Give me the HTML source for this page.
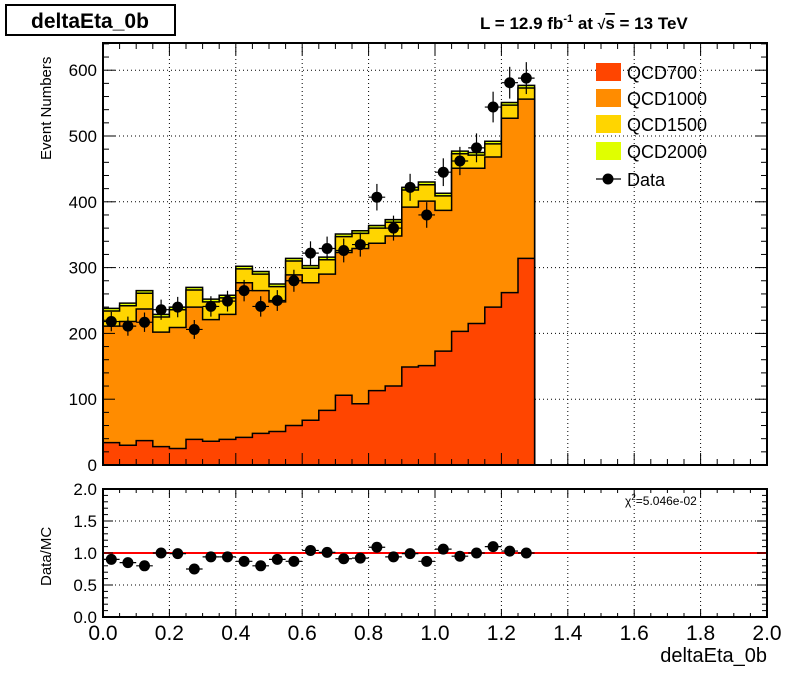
<!DOCTYPE html>
<html><head><meta charset="utf-8"><style>
body{margin:0;background:#fff;}
svg text{font-family:"Liberation Sans",sans-serif;}
</style></head><body>
<svg id="c" width="798" height="669" xmlns="http://www.w3.org/2000/svg">
<rect x="0" y="0" width="798" height="669" fill="#fff"/>
<rect x="6" y="5" width="169" height="30" fill="#fff" stroke="#000" stroke-width="2"/>
<text x="90" y="28" font-size="21" font-weight="bold" text-anchor="middle">deltaEta_0b</text>
<text x="480" y="29" font-size="17" font-weight="bold">L = 12.9 fb<tspan dy="-7" font-size="11">-1</tspan><tspan dy="7"> at  </tspan><tspan font-size="14">√</tspan><tspan text-decoration="overline">s</tspan> = 13 TeV</text>
<text transform="translate(51,160) rotate(-90)" font-size="15">Event Numbers</text>
<text transform="translate(51,586) rotate(-90)" font-size="15">Data/MC</text>
<text x="767" y="662" font-size="20" text-anchor="end">deltaEta_0b</text>
<g id="main"></g>
<g id="ratio"></g>
</svg>
<script>
const binEdgesStart = 0.0;
const binWidth = 0.05;
const qcd700 = [34,30,37,28,25,39,36,39,42,48,51,60,68,83,106,93,113,120,149,151,173,203,215,240,262,314];
const qcd1000Top = [211,218,237,202,209,240,221,229,277,265,248,289,277,290,323,329,337,348,392,401,387,451,451,468,527,556];
const totalTop = [238,246,265,229,240,270,252,258,302,294,275,314,303,316,351,356,364,373,422,430,413,477,475,492,551,577];
const qcd2000 = [4,4,4,4,4,4,4,4,4,4,4,4,4,4,4,4,4,4,4,4,4,4,4,4,4,4];
const dataVals = [218,211,217,236,240,206,241,249,265,241,250,280,322,329,326,335,407,360,422,380,445,462,482,544,581,588];
const ratioVals = [0.90,0.85,0.80,1.00,0.99,0.75,0.94,0.94,0.87,0.80,0.90,0.87,1.04,1.01,0.91,0.92,1.09,0.94,0.99,0.87,1.06,0.95,1.00,1.10,1.03,1.00];
const yTicks = [0,100,200,300,400,500,600];
const rTicks = [0.0,0.5,1.0,1.5,2.0];
const xTicks = [0.0,0.2,0.4,0.6,0.8,1.0,1.2,1.4,1.6,1.8,2.0];
const chi2Label = "=5.046e-02";

const NS="http://www.w3.org/2000/svg";
const X0=103,X1=767,YT=43,YB=465,RT=489,RB=617;
const xs=v=>X0+(v/2.0)*(X1-X0);
const ys=v=>YB-v*0.658;
const rs=v=>RB-v*(RB-RT)/2.0;
function mk(tag,attrs,parent){const e=document.createElementNS(NS,tag);for(const k in attrs)e.setAttribute(k,attrs[k]);parent.appendChild(e);return e;}
const main=document.getElementById('main'), ratio=document.getElementById('ratio');

// grids
for(const t of xTicks){ if(t>0&&t<2){
  const g1=mk('line',{x1:xs(t),x2:xs(t),y1:YT,y2:YB,stroke:'#000','stroke-dasharray':'1,3','stroke-width':1},main);
  
  
  const g2=mk('line',{x1:xs(t),x2:xs(t),y1:RT,y2:RB,stroke:'#000','stroke-dasharray':'1,3','stroke-width':1},ratio);
  
  
}}
for(const t of yTicks){ if(t>0){
  const g=mk('line',{x1:X0,x2:X1,y1:ys(t),y2:ys(t),stroke:'#000','stroke-dasharray':'1,3','stroke-width':1},main);
  
  
}}
for(const t of rTicks){ if(t>0&&t<2){
  const g=mk('line',{x1:X0,x2:X1,y1:rs(t),y2:rs(t),stroke:'#000','stroke-dasharray':'1,3','stroke-width':1},ratio);
  
  
}}

// stacks
function stepPath(vals){
  let d='M'+xs(binEdgesStart)+','+ys(0);
  vals.forEach((v,i)=>{const a=xs(binEdgesStart+i*binWidth),b=xs(binEdgesStart+(i+1)*binWidth);d+=' L'+a+','+ys(v)+' L'+b+','+ys(v);});
  d+=' L'+xs(binEdgesStart+vals.length*binWidth)+','+ys(0)+' Z';return d;
}
const layers=[
 {vals:totalTop,col:'#e0ff00',name:'qcd2000-stack'},
 {vals:totalTop.map((v,i)=>v-qcd2000[i]),col:'#ffd500',name:'qcd1500-stack'},
 {vals:qcd1000Top,col:'#ff8c00',name:'qcd1000-stack'},
 {vals:qcd700,col:'#ff4500',name:'qcd700-stack'}];
for(const L of layers){
  const p=mk('path',{d:stepPath(L.vals),fill:L.col,stroke:'#000','stroke-width':1.5},main);
  
  
}
// data points
dataVals.forEach((v,i)=>{
  const cx=xs(binEdgesStart+(i+0.5)*binWidth),e=Math.sqrt(v);
  const l1=mk('line',{x1:cx,x2:cx,y1:ys(v+e),y2:ys(v-e),stroke:'#000','stroke-width':1.2},main);
  
  
  const l2=mk('line',{x1:xs(binEdgesStart+i*binWidth),x2:xs(binEdgesStart+(i+1)*binWidth),y1:ys(v),y2:ys(v),stroke:'#000','stroke-width':1.2},main);
  
  
  const c=mk('circle',{cx:cx,cy:ys(v),r:5.5,fill:'#000'},main);
  
  
});
// ratio
const rl=mk('line',{x1:X0,x2:X1,y1:rs(1),y2:rs(1),stroke:'#f00','stroke-width':2},ratio);


ratioVals.forEach((v,i)=>{
  const cx=xs(binEdgesStart+(i+0.5)*binWidth);
  const l=mk('line',{x1:xs(binEdgesStart+i*binWidth),x2:xs(binEdgesStart+(i+1)*binWidth),y1:rs(v),y2:rs(v),stroke:'#000','stroke-width':1.2},ratio);
  
  
  const c=mk('circle',{cx:cx,cy:rs(v),r:5.5,fill:'#000'},ratio);
  
  
});

// frames and ticks
const f1=mk('rect',{x:X0,y:YT,width:X1-X0,height:YB-YT,fill:'none',stroke:'#000','stroke-width':2},main);


const f2=mk('rect',{x:X0,y:RT,width:X1-X0,height:RB-RT,fill:'none',stroke:'#000','stroke-width':2},ratio);


for(let v=0;v<=640;v+=20){
  const len=(v%100===0)?12:6;
  for(const [x,dir] of [[X0,1],[X1,-1]]){
    const t=mk('line',{x1:x,x2:x+dir*len,y1:ys(v),y2:ys(v),stroke:'#000','stroke-width':1},main);
    
    
  }
}
for(const v of yTicks){
  const t=mk('text',{x:X0-6,y:ys(v)+6,'font-size':17,'text-anchor':'end'},main);
  t.textContent=String(v);
  
  
}
for(let k=0;k<=20;k++){
  const v=k*0.1,len=(k%5===0)?10:5;
  for(const [x,dir] of [[X0,1],[X1,-1]]){
    const t=mk('line',{x1:x,x2:x+dir*len,y1:rs(v),y2:rs(v),stroke:'#000','stroke-width':1},ratio);
    
    
  }
}
for(const v of rTicks){
  const t=mk('text',{x:X0-6,y:rs(v)+6,'font-size':17,'text-anchor':'end'},ratio);
  t.textContent=v.toFixed(1);
  
  
}
for(let k=0;k<=40;k++){
  const v=k*0.05,maj=(k%4===0);
  const x=xs(v);
  const a=mk('line',{x1:x,x2:x,y1:YB,y2:YB-(maj?12:6),stroke:'#000','stroke-width':1},main);
  
  
  const b=mk('line',{x1:x,x2:x,y1:YT,y2:YT+(maj?12:6),stroke:'#000','stroke-width':1},main);
  
  
  const c=mk('line',{x1:x,x2:x,y1:RB,y2:RB-(maj?8:4),stroke:'#000','stroke-width':1},ratio);
  
  
  const d=mk('line',{x1:x,x2:x,y1:RT,y2:RT+(maj?8:4),stroke:'#000','stroke-width':1},ratio);
  
  
}
for(const v of xTicks){
  const t=mk('text',{x:xs(v),y:640,'font-size':21,'text-anchor':'middle'},ratio);
  t.textContent=v.toFixed(1);
  
  
}
const chi=mk('text',{x:625,y:505,'font-size':12},ratio);
chi.innerHTML='χ<tspan dy="-5" font-size="8">2</tspan><tspan dy="5">'+chi2Label+'</tspan>';



// legend
const legItems=[['QCD700','#ff4500',72],['QCD1000','#ff8c00',98],['QCD1500','#ffd500',124],['QCD2000','#e0ff00',151]];
for(const [n,c,y] of legItems){
  const r=mk('rect',{x:596,y:y-9,width:25,height:18,fill:c},main);
  
  
  const t=mk('text',{x:627,y:y+7,'font-size':18},main);
  t.textContent=n;
  
  
}
const ll=mk('line',{x1:596,x2:621,y1:179,y2:179,stroke:'#000','stroke-width':1.2},main);


const lc=mk('circle',{cx:608,cy:179,r:5.5,fill:'#000'},main);


const lt=mk('text',{x:627,y:186,'font-size':18},main);
lt.textContent='Data';


</script>
</body></html>
